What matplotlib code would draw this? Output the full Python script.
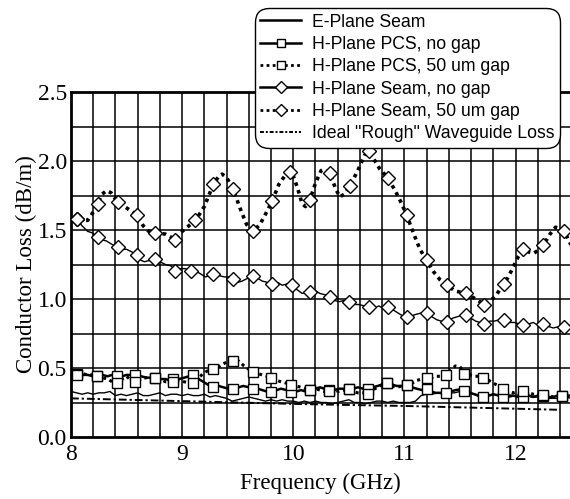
import matplotlib
matplotlib.use("Agg")
import matplotlib.pyplot as plt
from matplotlib.lines import Line2D
import numpy as np

# ---- data ----
seam50_f = [8.00, 8.05, 8.10, 8.15, 8.20, 8.24, 8.28, 8.32, 8.36, 8.42, 8.50, 8.59, 8.65, 8.70, 8.76, 8.85,
            8.94, 9.00, 9.06, 9.12, 9.20, 9.28, 9.33, 9.36, 9.40, 9.46, 9.52, 9.58, 9.64, 9.70, 9.76, 9.81,
            9.87, 9.93, 9.97, 9.99, 10.04, 10.08, 10.11, 10.15, 10.20, 10.25, 10.28, 10.33, 10.38, 10.42,
            10.46, 10.51, 10.58, 10.64, 10.68, 10.72, 10.78, 10.85, 10.92, 10.97, 11.02, 11.08, 11.14, 11.20,
            11.26, 11.32, 11.38, 11.45, 11.50, 11.55, 11.62, 11.68, 11.72, 11.76, 11.82, 11.86, 11.90, 11.96,
            12.02, 12.07, 12.12, 12.16, 12.20, 12.25, 12.31, 12.36, 12.40, 12.44, 12.50]
seam50_v = [1.56, 1.58, 1.57, 1.57, 1.63, 1.69, 1.76, 1.785, 1.77, 1.70, 1.66, 1.61, 1.53, 1.49, 1.48, 1.47,
            1.43, 1.49, 1.53, 1.57, 1.67, 1.83, 1.89, 1.905, 1.88, 1.795, 1.66, 1.54, 1.49, 1.54, 1.63, 1.71,
            1.83, 1.90, 1.92, 1.915, 1.80, 1.69, 1.67, 1.72, 1.84, 1.93, 1.94, 1.915, 1.80, 1.74,
            1.76, 1.82, 1.93, 2.04, 2.07, 2.02, 1.94, 1.88, 1.78, 1.70, 1.61, 1.48, 1.36, 1.28,
            1.20, 1.14, 1.105, 1.06, 1.05, 1.04, 1.01, 0.98, 0.96, 0.98, 1.02, 1.07, 1.11, 1.20,
            1.30, 1.36, 1.34, 1.33, 1.35, 1.39, 1.47, 1.52, 1.51, 1.49, 1.39]

seam0_f = [8.00, 8.05, 8.10, 8.15, 8.19, 8.24, 8.28, 8.32, 8.36, 8.42, 8.46, 8.50, 8.55, 8.59, 8.63, 8.66,
           8.71, 8.76, 8.80, 8.85, 8.90, 8.94, 8.98, 9.03, 9.08, 9.12, 9.17, 9.21, 9.25, 9.28, 9.33, 9.38,
           9.42, 9.46, 9.50, 9.54, 9.59, 9.64, 9.68, 9.72, 9.77, 9.81, 9.86, 9.90, 9.95, 9.99, 10.03, 10.08,
           10.12, 10.15, 10.20, 10.24, 10.29, 10.33, 10.37, 10.41, 10.46, 10.50, 10.55, 10.59, 10.64, 10.68,
           10.72, 10.77, 10.81, 10.85, 10.90, 10.94, 10.98, 11.02, 11.07, 11.11, 11.16, 11.20, 11.25, 11.29,
           11.33, 11.38, 11.43, 11.47, 11.51, 11.55, 11.60, 11.64, 11.68, 11.72, 11.77, 11.81, 11.86, 11.90,
           11.94, 11.99, 12.03, 12.07, 12.12, 12.16, 12.20, 12.25, 12.30, 12.34, 12.39, 12.44, 12.50]
seam0_v = [1.56, 1.58, 1.53, 1.49, 1.48, 1.45, 1.43, 1.42, 1.40, 1.375, 1.36, 1.36, 1.34, 1.32, 1.28, 1.27,
           1.28, 1.29, 1.27, 1.25, 1.24, 1.205, 1.22, 1.22, 1.20, 1.205, 1.18, 1.16, 1.17, 1.18, 1.17, 1.16,
           1.16, 1.145, 1.12, 1.13, 1.15, 1.167, 1.15, 1.13, 1.12, 1.11, 1.12, 1.10, 1.11, 1.10, 1.07, 1.04,
           1.05, 1.05, 1.06, 1.04, 1.03, 1.017, 0.99, 0.98, 0.99, 0.98, 0.96, 0.96, 0.95, 0.94,
           0.93, 0.95, 0.93, 0.94, 0.92, 0.90, 0.88, 0.867, 0.88, 0.89, 0.90, 0.896, 0.87, 0.85,
           0.84, 0.83, 0.86, 0.87, 0.88, 0.884, 0.86, 0.84, 0.83, 0.82, 0.84, 0.84, 0.85, 0.85,
           0.83, 0.83, 0.82, 0.815, 0.82, 0.83, 0.81, 0.82, 0.80, 0.79, 0.80, 0.80, 0.81]

pcs0_f = [8.00, 8.05, 8.10, 8.15, 8.20, 8.23, 8.28, 8.33, 8.37, 8.41, 8.46, 8.50, 8.54, 8.58, 8.63, 8.68,
          8.72, 8.76, 8.80, 8.85, 8.89, 8.92, 8.97, 9.02, 9.06, 9.10, 9.15, 9.19, 9.23, 9.28, 9.33, 9.37,
          9.42, 9.46, 9.51, 9.55, 9.60, 9.64, 9.68, 9.72, 9.76, 9.80, 9.85, 9.89, 9.94, 9.98, 10.03, 10.07,
          10.11, 10.15, 10.20, 10.24, 10.28, 10.32, 10.37, 10.41, 10.46, 10.50, 10.54, 10.58, 10.63, 10.67,
          10.71, 10.76, 10.80, 10.84, 10.89, 10.93, 10.98, 11.02, 11.07, 11.11, 11.16, 11.20, 11.24, 11.28,
          11.33, 11.37, 11.42, 11.46, 11.50, 11.54, 11.59, 11.63, 11.67, 11.71, 11.76, 11.80, 11.85, 11.89,
          11.94, 11.98, 12.02, 12.07, 12.12, 12.16, 12.20, 12.25, 12.30, 12.34, 12.38, 12.42, 12.46, 12.50]
pcs0_v = [0.46, 0.46, 0.45, 0.45, 0.44, 0.44, 0.45, 0.44, 0.45, 0.445, 0.44, 0.45, 0.45, 0.45, 0.44, 0.43,
          0.43, 0.43, 0.42, 0.42, 0.41, 0.42, 0.42, 0.43, 0.44, 0.45, 0.42, 0.40, 0.38, 0.365, 0.37, 0.36,
          0.35, 0.345, 0.36, 0.37, 0.36, 0.345, 0.35, 0.34, 0.33, 0.328, 0.34, 0.35, 0.34, 0.328, 0.33, 0.34,
          0.33, 0.34, 0.35, 0.36, 0.35, 0.34, 0.34, 0.35, 0.35, 0.345, 0.35, 0.36, 0.35, 0.345,
          0.36, 0.37, 0.38, 0.39, 0.38, 0.37, 0.37, 0.377, 0.36, 0.35, 0.34, 0.345, 0.33, 0.32,
          0.32, 0.32, 0.33, 0.34, 0.345, 0.335, 0.32, 0.31, 0.30, 0.29, 0.30, 0.31, 0.30, 0.29,
          0.30, 0.30, 0.29, 0.29, 0.30, 0.29, 0.30, 0.30, 0.29, 0.29, 0.30, 0.30, 0.30, 0.30]

pcs50_f = pcs0_f
pcs50_v = [0.47, 0.45, 0.46, 0.45, 0.45, 0.44, 0.43, 0.42, 0.40, 0.39, 0.42, 0.44, 0.41, 0.40, 0.42, 0.43,
           0.44, 0.43, 0.42, 0.40, 0.40, 0.40, 0.41, 0.40, 0.39, 0.39, 0.43, 0.46, 0.48, 0.49, 0.51, 0.53,
           0.55, 0.553, 0.55, 0.52, 0.49, 0.473, 0.46, 0.45, 0.44, 0.425, 0.41, 0.40, 0.39, 0.38, 0.37, 0.36,
           0.35, 0.34, 0.35, 0.34, 0.33, 0.33, 0.34, 0.33, 0.34, 0.345, 0.33, 0.32, 0.32, 0.31,
           0.34, 0.36, 0.38, 0.39, 0.37, 0.36, 0.37, 0.377, 0.39, 0.41, 0.42, 0.425, 0.43, 0.44,
           0.44, 0.45, 0.49, 0.515, 0.51, 0.454, 0.45, 0.44, 0.44, 0.43, 0.41, 0.39, 0.37, 0.345,
           0.33, 0.32, 0.33, 0.335, 0.32, 0.31, 0.31, 0.304, 0.30, 0.29, 0.30, 0.30, 0.29, 0.29]

eplane_f = [8.00, 8.05, 8.10, 8.15, 8.20, 8.25, 8.30, 8.35, 8.40, 8.45, 8.50, 8.55, 8.60, 8.65, 8.70, 8.75,
            8.80, 8.85, 8.90, 8.95, 9.00, 9.05, 9.10, 9.15, 9.20, 9.25, 9.30, 9.35, 9.40, 9.45, 9.50, 9.55,
            9.60, 9.65, 9.70, 9.75, 9.80, 9.85, 9.90, 9.95, 10.00, 10.05, 10.10, 10.15, 10.20, 10.25, 10.30,
            10.35, 10.40, 10.45, 10.50, 10.55, 10.60, 10.65, 10.70, 10.75, 10.80, 10.85, 10.90, 10.95, 11.00,
            11.05, 11.10, 11.15, 11.20, 11.25, 11.30, 11.35, 11.40, 11.45, 11.50, 11.55, 11.60, 11.65, 11.70,
            11.75, 11.80, 11.85, 11.90, 11.95, 12.00, 12.05, 12.10, 12.15, 12.20, 12.25, 12.30, 12.35, 12.40,
            12.45, 12.50]
eplane_v = [0.33, 0.32, 0.31, 0.32, 0.31, 0.32, 0.32, 0.33, 0.30, 0.31, 0.30, 0.31, 0.32, 0.30, 0.30, 0.31,
            0.32, 0.30, 0.31, 0.31, 0.30, 0.31, 0.30, 0.30, 0.31, 0.29, 0.30, 0.29, 0.28, 0.26, 0.27, 0.28,
            0.29, 0.28, 0.27, 0.26, 0.27, 0.26, 0.27, 0.26, 0.26, 0.25, 0.26, 0.25, 0.26, 0.25, 0.25,
            0.24, 0.25, 0.26, 0.27, 0.25, 0.25, 0.24, 0.25, 0.26, 0.26, 0.25, 0.26, 0.25, 0.25,
            0.25, 0.26, 0.30, 0.31, 0.31, 0.32, 0.31, 0.32, 0.32, 0.33, 0.34, 0.32, 0.30, 0.28,
            0.30, 0.31, 0.30, 0.29, 0.29, 0.30, 0.31, 0.30, 0.29, 0.29, 0.28, 0.28, 0.28, 0.28,
            0.29, 0.28]

ideal_f = [8.00, 8.50, 9.00, 9.50, 10.00, 10.50, 11.00, 11.50, 12.00, 12.40]
ideal_v = [0.28, 0.27, 0.26, 0.25, 0.24, 0.232, 0.225, 0.215, 0.205, 0.197]

marker_f = [8.05, 8.23, 8.41, 8.58, 8.76, 8.93, 9.10, 9.28, 9.46, 9.64, 9.81, 9.98, 10.15,
            10.33, 10.50, 10.67, 10.85, 11.02, 11.20, 11.37, 11.55, 11.72, 11.90, 12.07, 12.25, 12.43]

labels = ["E-Plane Seam", "H-Plane PCS, no gap", "H-Plane PCS, 50 um gap",
          "H-Plane Seam, no gap", "H-Plane Seam, 50 um gap", 'Ideal "Rough" Waveguide Loss']

x_ticks = [8, 9, 10, 11, 12]
y_ticks = [0.0, 0.5, 1.0, 1.5, 2.0, 2.5]

# ---- figure ----
fig = plt.figure(figsize=(5.70, 4.99), dpi=100)
ax = fig.add_axes([71/570, 62/499, 499/570, 345/499])
ax.set_xlim(8, 12.49)
ax.set_ylim(0, 2.5)

# grid
for gx in np.arange(8.2, 12.5, 0.2):
    ax.axvline(gx, color="black", lw=1.1, zorder=1)
for gy in np.arange(0.25, 2.5, 0.25):
    ax.axhline(gy, color="black", lw=1.1, zorder=1)

def mvals(f, v):
    fa = np.array(f)
    idx = [int(np.argmin(np.abs(fa - m))) for m in marker_f]
    return [f[i] for i in idx], [v[i] for i in idx]

dotted = (0, (1.0, 1.2))
mk = dict(ls="none", mfc="white", mec="black", mew=1.0, zorder=4)

ax.plot(eplane_f, eplane_v, color="black", lw=1.0, zorder=3)

ax.plot(pcs0_f, pcs0_v, color="black", lw=1.8, zorder=3)
mx, my = mvals(pcs0_f, pcs0_v)
ax.plot(mx, my, marker="s", ms=6.5, **mk)

ax.plot(pcs50_f, pcs50_v, color="black", lw=2.2, ls=dotted, zorder=3)
mx, my = mvals(pcs50_f, pcs50_v)
ax.plot(mx, my, marker="s", ms=6.5, **mk)

ax.plot(seam0_f, seam0_v, color="black", lw=1.0, zorder=3)
mx, my = mvals(seam0_f, seam0_v)
ax.plot(mx, my, marker="D", ms=6.8, **mk)

ax.plot(seam50_f, seam50_v, color="black", lw=2.6, ls=dotted, zorder=3)
mx, my = mvals(seam50_f, seam50_v)
ax.plot(mx, my, marker="D", ms=6.8, **mk)

ax.plot(ideal_f, ideal_v, color="black", lw=1.4, ls=(0, (4, 1.5, 1.2, 1.5)), zorder=3)

# ticks
serif = ["Liberation Serif", "DejaVu Serif"]
ax.set_xticks(x_ticks)
ax.set_xticklabels([str(t) for t in x_ticks], fontfamily=serif, fontsize=17)
ax.set_yticks(y_ticks)
ax.set_yticklabels([f"{t:.1f}" for t in y_ticks], fontfamily=serif, fontsize=17)
ax.tick_params(axis="x", length=0, pad=5)
ax.tick_params(axis="y", length=0, pad=3)
ax.set_xlabel("Frequency (GHz)", fontfamily=serif, fontsize=16.5, labelpad=6)
ax.set_ylabel("Conductor Loss (dB/m)", fontfamily=serif, fontsize=16.5, labelpad=0)
for s in ["left", "bottom", "top"]:
    ax.spines[s].set_linewidth(2.0)
ax.spines["right"].set_visible(False)

# legend
hl = [Line2D([], [], color="black", lw=1.8),
      Line2D([], [], color="black", lw=1.8, marker="s", ms=6, mfc="white", mec="black"),
      Line2D([], [], color="black", lw=2.0, ls=dotted, marker="s", ms=6, mfc="white", mec="black"),
      Line2D([], [], color="black", lw=1.8, marker="D", ms=6, mfc="white", mec="black"),
      Line2D([], [], color="black", lw=2.0, ls=dotted, marker="D", ms=6, mfc="white", mec="black"),
      Line2D([], [], color="black", lw=1.4, ls=(0, (2, 1, 1, 1)))]
leg = fig.legend(hl, labels, loc="upper right", bbox_to_anchor=(0.982, 0.984),
                 prop={"family": ["Liberation Sans", "DejaVu Sans"], "size": 12.7},
                 numpoints=1, handlelength=2.3, handletextpad=0.6, labelspacing=0.3,
                 borderpad=0.32, borderaxespad=0.0, fancybox=True, framealpha=1,
                 edgecolor="black")
leg.get_frame().set_linewidth(1.0)
leg.get_frame().set_boxstyle("round", pad=0, rounding_size=0.8)
leg.set_zorder(10)

fig.savefig("out.png", dpi=100)
